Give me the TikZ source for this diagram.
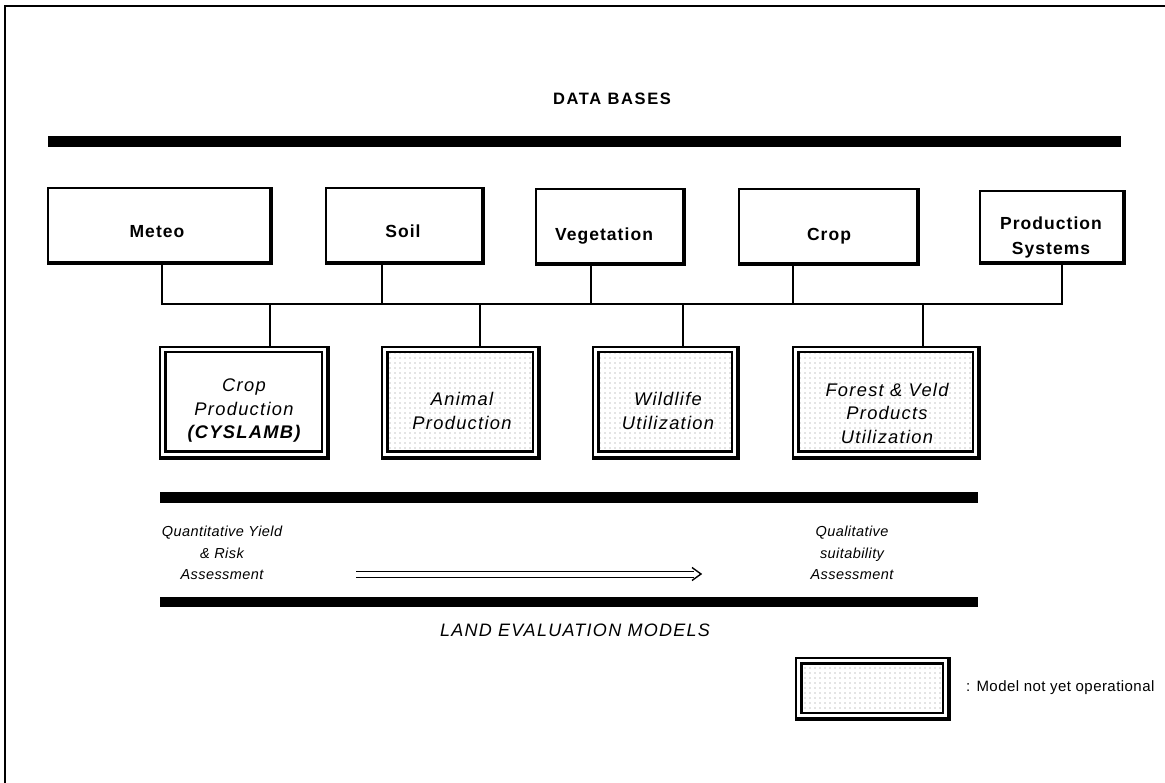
\documentclass[tikz,border=0pt]{standalone}
\usepackage{fontspec}
\setmainfont{Liberation Sans}
\newfontfamily\dbfont[LetterSpace=6]{Liberation Sans}
\newfontfamily\itfont[LetterSpace=7]{Liberation Sans}
\newfontfamily\smfont[LetterSpace=3]{Liberation Sans}
\newfontfamily\titfont[LetterSpace=10]{Liberation Sans}
\usetikzlibrary{patterns.meta}
\begin{document}
\begin{tikzpicture}[x=1pt,y=-1pt,
  dbbox/.style={draw, line width=1.2pt, inner sep=0pt, minimum height=74pt, minimum width=#1pt},
  dblabel/.style={font=\dbfont\bfseries\fontsize{17.5}{25}\selectfont, align=center, inner sep=0pt},
  modelbox/.style={draw, line width=1.4pt, inner sep=0pt, minimum height=110pt, minimum width=#1pt},
  modellabel/.style={font=\itfont\itshape\fontsize{18.3}{23.5}\selectfont, align=center, inner sep=0pt},
  smalllabel/.style={font=\smfont\itshape\fontsize{14.5}{21.5}\selectfont, align=center, inner sep=0pt},
  shadowline/.style={line width=3.2pt},
  conn/.style={line width=1.1pt},
  bar/.style={fill=black, draw=none},
  innerline/.style={line width=2.4pt},
  dotted fill/.style={pattern={Dots[distance=5pt, radius=0.55pt]}, pattern color=black!45}
]
\useasboundingbox (0,0) rectangle (1165,783);
\fill[white] (0,0) rectangle (1165,783);
% frame
\draw[line width=1.2pt] (5,783) -- (5,6) -- (1165,6);

% title
\node[font=\titfont\bfseries\fontsize{16.5}{18}\selectfont, inner sep=0pt] (dbtitle) at (612,99) {DATA BASES};
\fill[bar] (48,136) rectangle (1121,147);

% data base boxes
\node[dbbox=222] (meteo) at (159,225) {};
\node[dbbox=156] (soil) at (404,225) {};
\node[dbbox=147] (veg) at (609.5,226) {};
\node[dbbox=178] (crop) at (828,226) {};
\node[dbbox=143, minimum height=71pt] (prod) at (1051.5,226.5) {};
\node[dblabel, anchor=base] (meteo-l) at (157,238) {Meteo};
\node[dblabel, anchor=base] (soil-l) at (403,238) {Soil};
\node[dblabel, anchor=base] (veg-l) at (604,241) {Vegetation};
\node[dblabel, anchor=base] (crop-l) at (829,241) {Crop};
\node[dblabel] (prod-l) at (1051,237) {Production\\Systems};
\foreach \n in {meteo,soil,veg,crop,prod}{
  \draw[shadowline] ([shift={(0.6,0)}]\n.north east) -- ([shift={(0.6,0.6)}]\n.south east) -- ([shift={(0,0.6)}]\n.south west);
}

% model boxes
\node[modelbox=167] (cp) at (243.5,402) {};
\node[modelbox=156] (ap) at (460,402) {};
\node[modelbox=144] (wu) at (665,402) {};
\node[modelbox=185] (fv) at (885.5,402) {};
\draw[innerline] ([shift={(6,6)}]cp.north west) rectangle ([shift={(-6,-6)}]cp.south east);
\foreach \n in {ap,wu,fv}{
  \draw[innerline, dotted fill] ([shift={(6,6)}]\n.north west) rectangle ([shift={(-6,-6)}]\n.south east);
}
\foreach \n in {cp,ap,wu,fv}{
  \draw[shadowline] ([shift={(1,0)}]\n.north east) -- ([shift={(1,1)}]\n.south east) -- ([shift={(0,1)}]\n.south west);
}
\node[modellabel] (cp-l) at (244,411) {Crop\\Production\\{\bfseries(CYSLAMB)}};
\node[modellabel] (ap-l) at (462,411) {Animal\\Production};
\node[modellabel] (wu-l) at (668,411) {Wildlife\\Utilization};
\node[modellabel] (fv-l) at (887,413) {Forest \& Veld\\Products\\Utilization};

% bus
\coordinate (b1) at (162,304);
\coordinate (b2) at (382,304);
\coordinate (b3) at (591,304);
\coordinate (b4) at (793,304);
\coordinate (b5) at (1062,304);
\coordinate (c1) at (270,304);
\coordinate (c2) at (480,304);
\coordinate (c3) at (683,304);
\coordinate (c4) at (923,304);
\draw[conn] (b1 |- meteo.south) -- (b1) -- (b5) -- (b5 |- prod.south);
\draw[conn] (b2 |- soil.south) -- (b2);
\draw[conn] (b3 |- veg.south) -- (b3);
\draw[conn] (b4 |- crop.south) -- (b4);
\draw[conn] (c1) -- (c1 |- cp.north);
\draw[conn] (c2) -- (c2 |- ap.north);
\draw[conn] (c3) -- (c3 |- wu.north);
\draw[conn] (c4) -- (c4 |- fv.north);

% lower bars
\fill[bar] (160,492) rectangle (978,503);
\fill[bar] (160,597) rectangle (978,607);

\node[smalllabel] (quant) at (222,553) {Quantitative Yield\\\& Risk\\Assessment};
\node[smalllabel] (qual) at (852,553) {Qualitative\\suitability\\Assessment};
\coordinate (arrS) at (356,574);
\coordinate (arrE) at (701,574);
\draw[line width=1pt, double distance=5pt] (arrS) -- ([xshift=-7pt]arrE);
\draw[line width=1.4pt] ([shift={(-9,-6.5)}]arrE) -- (arrE) -- ([shift={(-9,6.5)}]arrE);

\node[font=\itfont\itshape\fontsize{18}{20}\selectfont, inner sep=0pt] (lem) at (575,630) {LAND EVALUATION MODELS};

% legend
\node[modelbox=152, minimum height=60pt] (leg) at (872,688) {};
\draw[innerline, dotted fill] ([shift={(6,6)}]leg.north west) rectangle ([shift={(-6,-6)}]leg.south east);
\draw[shadowline] ([shift={(1,0)}]leg.north east) -- ([shift={(1,1)}]leg.south east) -- ([shift={(0,1)}]leg.south west);
\node[font=\smfont\fontsize{15}{18}\selectfont, anchor=west, inner sep=0pt] (legt) at (966,688) {: Model not yet operational};
\end{tikzpicture}
\end{document}
